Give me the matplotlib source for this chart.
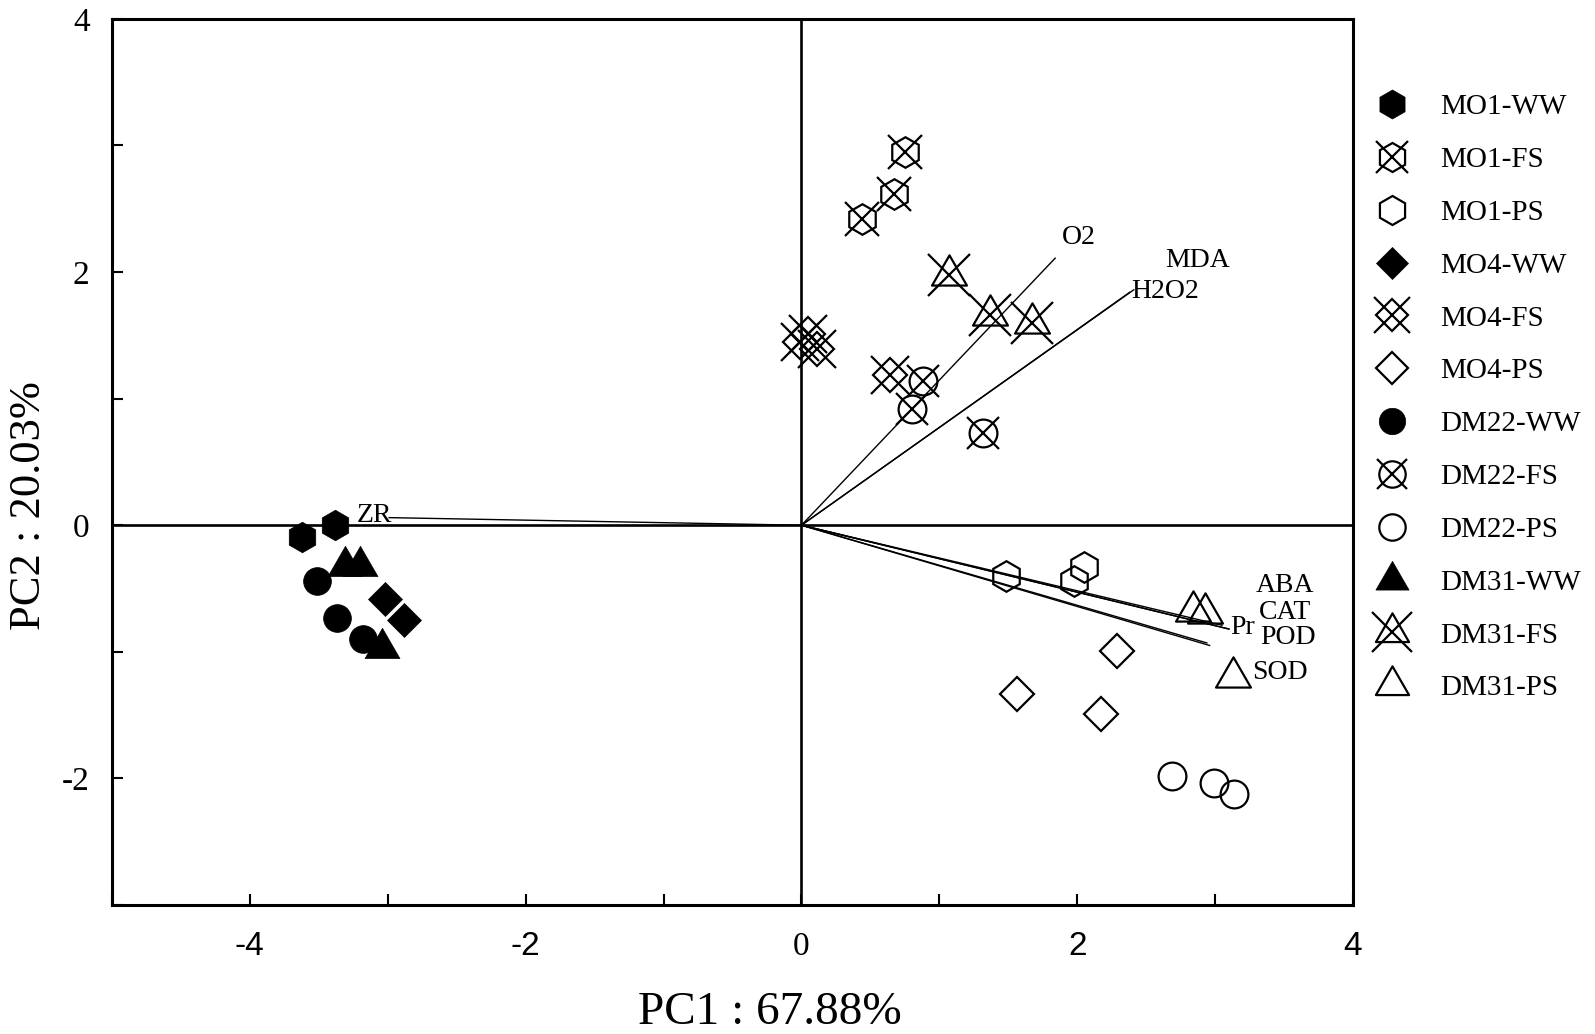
import matplotlib

matplotlib.use("Agg")
import matplotlib.pyplot as plt
from matplotlib.lines import Line2D
from matplotlib.path import Path
from matplotlib.ticker import FixedLocator, MultipleLocator

# ---- sample scores (PC1, PC2) ----
mo1_ww_x = [-3.62, -3.38]
mo1_ww_y = [-0.09, 0.00]
mo1_fs_x = [0.75, 0.67, 0.44]
mo1_fs_y = [2.95, 2.62, 2.42]
mo1_ps_x = [1.48, 1.98, 2.05]
mo1_ps_y = [-0.40, -0.44, -0.33]

mo4_ww_x = [-3.02, -2.88]
mo4_ww_y = [-0.58, -0.75]
mo4_fs_x = [0.05, 0.11, -0.01, 0.64]
mo4_fs_y = [1.51, 1.39, 1.45, 1.19]
mo4_ps_x = [2.29, 1.56, 2.17]
mo4_ps_y = [-0.99, -1.33, -1.49]

dm22_ww_x = [-3.51, -3.37, -3.18]
dm22_ww_y = [-0.44, -0.73, -0.90]
dm22_fs_x = [0.88, 0.80, 1.32]
dm22_fs_y = [1.14, 0.92, 0.73]
dm22_ps_x = [2.69, 2.99, 3.14]
dm22_ps_y = [-1.98, -2.04, -2.12]

dm31_ww_x = [-3.31, -3.20, -3.04]
dm31_ww_y = [-0.32, -0.32, -0.97]
dm31_fs_x = [1.07, 1.37, 1.67]
dm31_fs_y = [1.98, 1.66, 1.60]
dm31_ps_x = [2.84, 2.93, 3.13]
dm31_ps_y = [-0.68, -0.69, -1.20]

# ---- variable loadings ----
var_names = ["ZR", "O2", "MDA", "H2O2", "ABA", "CAT", "Pr", "POD", "SOD"]
load_x = [-2.99, 1.84, 2.38, 2.41, 3.05, 3.10, 3.10, 2.96, 2.94]
load_y = [0.06, 2.11, 1.84, 1.86, -0.79, -0.82, -0.82, -0.95, -0.93]
label_x = [-3.10, 2.01, 2.87, 2.64, 3.51, 3.51, 3.20, 3.53, 3.47]
label_y = [0.08, 2.27, 2.09, 1.85, -0.48, -0.69, -0.81, -0.89, -1.16]

x_ticks = [-4, -2, 0, 2, 4]
y_ticks = [-2, 0, 2, 4]

SERIF = "Liberation Serif"
SANS = "Liberation Sans"
EDGE_LW = 1.6

# equilateral triangle marker
TRI = Path([(0, 1), (-0.866, -0.5), (0.866, -0.5), (0, 1)],
           [Path.MOVETO, Path.LINETO, Path.LINETO, Path.CLOSEPOLY])

# shape, size, size of overlaid X
SHAPES = {
    "hex": ("h", 22, 24),
    "dia": ("D", 17, 27),
    "cir": ("o", 20, 23),
    "tri": (TRI, 29, 30),
}


def marker_handles(shape, kind):
    mk, ms, xs = SHAPES[shape]
    if kind == "WW":
        return [Line2D([], [], ls="none", marker=mk, ms=ms, mfc="black",
                       mec="black", mew=0.5)]
    base = Line2D([], [], ls="none", marker=mk, ms=ms, mfc="none",
                  mec="black", mew=EDGE_LW)
    if kind == "PS":
        return [base]
    cross = Line2D([], [], ls="none", marker="x", ms=xs, mec="black",
                   mew=EDGE_LW)
    return [base, cross]


def draw_group(ax, xs, ys, shape, kind):
    for h in marker_handles(shape, kind):
        ax.plot(xs, ys, ls="none", marker=h.get_marker(), ms=h.get_markersize(),
                mfc=h.get_markerfacecolor(), mec="black",
                mew=h.get_markeredgewidth(), zorder=4)


groups = [
    ("MO1-WW", mo1_ww_x, mo1_ww_y, "hex", "WW"),
    ("MO1-FS", mo1_fs_x, mo1_fs_y, "hex", "FS"),
    ("MO1-PS", mo1_ps_x, mo1_ps_y, "hex", "PS"),
    ("MO4-WW", mo4_ww_x, mo4_ww_y, "dia", "WW"),
    ("MO4-FS", mo4_fs_x, mo4_fs_y, "dia", "FS"),
    ("MO4-PS", mo4_ps_x, mo4_ps_y, "dia", "PS"),
    ("DM22-WW", dm22_ww_x, dm22_ww_y, "cir", "WW"),
    ("DM22-FS", dm22_fs_x, dm22_fs_y, "cir", "FS"),
    ("DM22-PS", dm22_ps_x, dm22_ps_y, "cir", "PS"),
    ("DM31-WW", dm31_ww_x, dm31_ww_y, "tri", "WW"),
    ("DM31-FS", dm31_fs_x, dm31_fs_y, "tri", "FS"),
    ("DM31-PS", dm31_ps_x, dm31_ps_y, "tri", "PS"),
]

fig = plt.figure(figsize=(15.95, 10.34), dpi=100)
ax = fig.add_axes([0.0702, 0.1248, 0.7781, 0.8569])
ax.set_xlim(-5, 4)
ax.set_ylim(-3, 4)

for sp in ax.spines.values():
    sp.set_linewidth(2.2)
ax.axvline(0, color="black", lw=1.9, zorder=2)
ax.axhline(0, color="black", lw=1.9, zorder=2)

# loading vectors
for name, lx, ly, tx, ty in zip(var_names, load_x, load_y, label_x, label_y):
    ax.plot([0, lx], [0, ly], color="black", lw=1.0, zorder=3)
    ax.text(tx, ty, name, ha="center", va="center", fontsize=20,
            family=SERIF, zorder=5)

for label, xs, ys, shape, kind in groups:
    draw_group(ax, xs, ys, shape, kind)

# ticks
ax.xaxis.set_major_locator(FixedLocator(x_ticks))
ax.xaxis.set_minor_locator(MultipleLocator(1))
ax.yaxis.set_major_locator(FixedLocator(y_ticks))
ax.yaxis.set_minor_locator(MultipleLocator(1))
ax.tick_params(which="both", direction="in", length=8, width=1.5,
               top=False, right=False)
ax.tick_params(axis="x", which="major", pad=19, labelsize=24)
ax.tick_params(axis="y", which="major", pad=16, labelsize=24)
ax.set_xticklabels([str(t) for t in x_ticks])
ax.set_yticklabels([str(t) for t in y_ticks])
for t, lab in zip(x_ticks, ax.get_xticklabels()):
    lab.set_family(SERIF if t == 0 else SANS)
for lab in ax.get_yticklabels():
    lab.set_family(SERIF)

fig.text(0.4828, 0.021, "PC1 : 67.88%", ha="center", va="center",
         fontsize=34, family=SERIF)
fig.text(0.018, 0.511, "PC2 : 20.03%", ha="center", va="center",
         rotation=90, fontsize=32, family=SERIF)

# legend
handles = [tuple(marker_handles(g[3], g[4])) for g in groups]
labels = [g[0] for g in groups]
fig.legend(handles, labels, loc="upper left",
           bbox_to_anchor=(1377 / 1595, 1 - 94 / 1034),
           frameon=False, prop={"family": SERIF, "size": 21},
           markerscale=0.95, handlelength=1.0, handletextpad=1.15,
           labelspacing=0.905, borderpad=0, borderaxespad=0)

fig.savefig("out.png", dpi=100, facecolor="white")
